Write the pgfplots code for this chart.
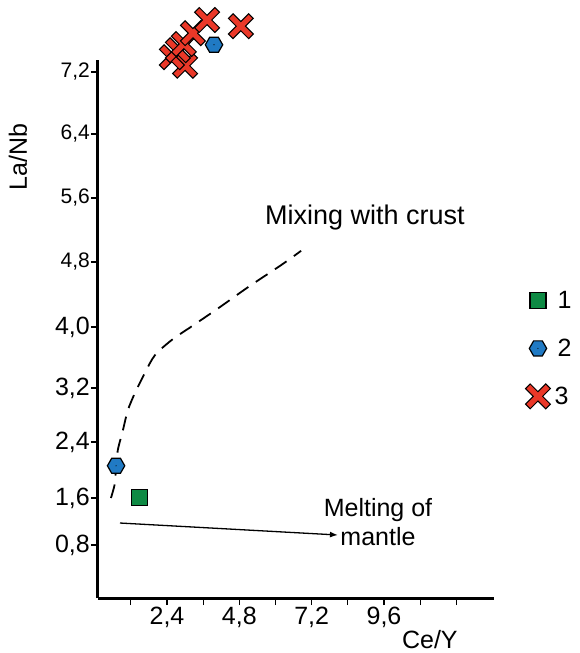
\documentclass[border=0pt]{standalone}
\usepackage{fontspec}
\setmainfont{Liberation Sans}
\usepackage{pgfplots}
\pgfplotsset{compat=1.18}
\usetikzlibrary{arrows.meta}

\definecolor{xgreen}{RGB}{14,138,68}
\definecolor{hexblue}{RGB}{32,122,196}
\definecolor{xred}{RGB}{234,56,40}

% big red cross with black outline
\pgfdeclareplotmark{bigx}{%
  \pgfsetrectcap
  \pgfsetlinewidth{7.6pt}\pgfsetstrokecolor{black}%
  \pgfpathmoveto{\pgfqpoint{-7.8pt}{-7.8pt}}\pgfpathlineto{\pgfqpoint{7.8pt}{7.8pt}}%
  \pgfpathmoveto{\pgfqpoint{-7.8pt}{7.8pt}}\pgfpathlineto{\pgfqpoint{7.8pt}{-7.8pt}}%
  \pgfusepathqstroke
  \pgfsetlinewidth{5.2pt}\pgfsetstrokecolor{xred}%
  \pgfpathmoveto{\pgfqpoint{-7.8pt}{-7.8pt}}\pgfpathlineto{\pgfqpoint{7.8pt}{7.8pt}}%
  \pgfpathmoveto{\pgfqpoint{-7.8pt}{7.8pt}}\pgfpathlineto{\pgfqpoint{7.8pt}{-7.8pt}}%
  \pgfusepathqstroke
}
% blue hexagon with a dot
\pgfdeclareplotmark{hex}{%
  \pgfsetlinewidth{1.2pt}\pgfsetstrokecolor{black}\pgfsetfillcolor{hexblue}%
  \pgfpathmoveto{\pgfqpointpolar{0}{8.7pt}}%
  \pgfpathlineto{\pgfqpointpolar{60}{8.7pt}}%
  \pgfpathlineto{\pgfqpointpolar{120}{8.7pt}}%
  \pgfpathlineto{\pgfqpointpolar{180}{8.7pt}}%
  \pgfpathlineto{\pgfqpointpolar{240}{8.7pt}}%
  \pgfpathlineto{\pgfqpointpolar{300}{8.7pt}}%
  \pgfpathclose
  \pgfusepathqfillstroke
  \pgfsetfillcolor{black}%
  \pgfpathcircle{\pgfpointorigin}{0.6pt}\pgfusepathqfill
}

\newcommand{\lbig}[1]{{\fontsize{25}{25}\selectfont #1}}
\newcommand{\lsml}[1]{{\fontsize{21}{21}\selectfont #1}}

\begin{document}
\begin{tikzpicture}
\begin{axis}[
  scale only axis, width=396pt, height=538pt,
  clip=false,
  axis x line=bottom, axis y line=left,
  axis line style={-, line width=3pt},
  xmin=0.11, xmax=13.25,
  % the y ticks of the original are not evenly spaced
  y coord trafo/.code={\pgfmathparse{(#1<1.6)?(0.8+(#1-0.8)*0.795):((#1<2.4)?(1.436+(#1-1.6)*0.9475):((#1<3.2)?(2.194+(#1-2.4)*0.9125):((#1<4)?(2.924+(#1-3.2)*1.0325):((#1<4.8)?(3.75+(#1-4)*1.099):((#1<5.6)?(4.629+(#1-4.8)*1.0825):((#1<6.4)?(5.495+(#1-5.6)*1.0825):(6.361+(#1-6.4)*1.049)))))))}},
  ymin=-0.102, ymax=7.354,
  xtick={1.2,2.4,3.6,4.8,6,7.2,8.4,9.6,10.8,12},
  xticklabels={{},{2,4},{},{4,8},{},{7,2},{},{9,6},{},{}},
  ytick={0.8,1.6,2.4,3.2,4.0,4.8,5.6,6.4,7.2},
  yticklabels={\lbig{0,8},\lbig{1,6},\lbig{2,4},\lbig{3,2},\lbig{4,0},\lsml{4,8},\lsml{5,6},\lsml{6,4},\lsml{7,2}},
  /pgf/number format/assume math mode=true,
  tick align=outside, major tick length=7pt,
  tick style={black, line width=1.3pt},
  xticklabel style={font=\fontsize{25}{25}\selectfont, inner sep=2pt},
  yticklabel style={inner sep=1pt},
  xlabel={Ce/Y}, ylabel={La/Nb},
  label style={font=\fontsize{25}{25}\selectfont},
  xlabel style={at={(rel axis cs:0.838,-0.078)}, anchor=center},
  ylabel style={at={(rel axis cs:-0.202,0.820)}, anchor=center},
  legend style={draw=none, fill=none, at={(rel axis cs:1.081,0.578)}, anchor=north west,
    font=\fontsize{25}{25}\selectfont, row sep=25pt},
  legend cell align=left,
]
% mixing trend
\addplot[smooth, black, line width=1.8pt, dash pattern=on 14pt off 9pt, forget plot] coordinates {
(0.54,1.60) (0.67,1.81) (0.71,2.06) (0.77,2.29) (0.94,2.58) (1.10,2.87) (1.34,3.13)
(1.67,3.40) (2.00,3.63) (2.56,3.83) (3.23,4.01) (4.10,4.23) (5.09,4.49) (6.22,4.77) (6.85,4.94)
};
% melting trend
\addplot[black, line width=1.3pt, -{Latex[length=8pt,width=6pt]}, forget plot] coordinates {
(0.84,1.174) (8.07,0.97)
};
\addplot[only marks, mark=square*, mark size=8pt,
  mark options={fill=xgreen, draw=black, line width=1.2pt}] coordinates {
(1.50,1.61)
};
\addlegendentry{\hspace{9pt}1}
\addplot[only marks, mark=hex] coordinates {
(0.71,2.06) (3.96,7.55)
};
\addlegendentry{\hspace{9pt}2}
\addplot[only marks, mark=bigx] coordinates {
(3.00,7.28) (2.56,7.39) (2.76,7.48) (2.96,7.56) (3.26,7.70) (3.73,7.87) (4.85,7.79)
};
\addlegendentry{\hspace{6pt}3}
\node[font=\fontsize{27}{27}\selectfont] at (axis cs:8.97,5.35) {Mixing with crust};
\node[font=\fontsize{25}{29}\selectfont, align=center] at (axis cs:9.40,1.19) {Melting of\\mantle};
\end{axis}
\pgfresetboundingbox
\useasboundingbox (-98pt,-55pt) rectangle (481pt,598pt);
\end{tikzpicture}
\end{document}
